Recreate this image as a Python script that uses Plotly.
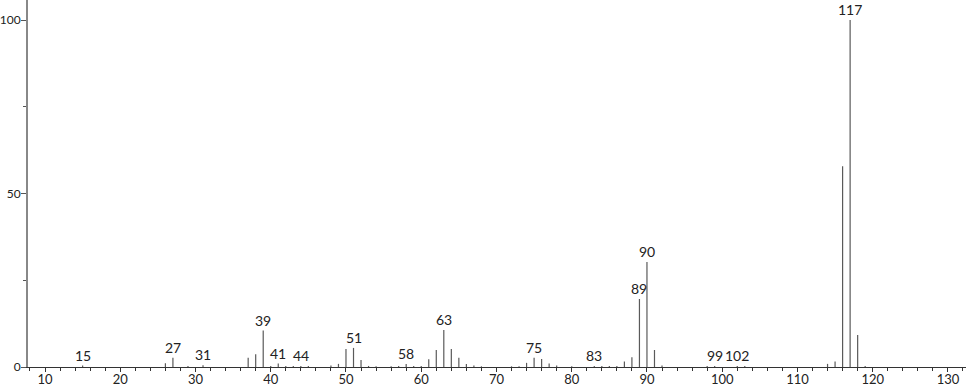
import plotly.graph_objects as go

mz = [15, 26, 27, 29, 31, 37, 38, 39, 40, 41, 42, 43, 44, 45, 48, 49, 50, 51, 52, 53, 54, 56, 57, 58, 59, 60,
      61, 62, 63, 64, 65, 66, 67, 68, 72, 73, 74, 75, 76, 77, 78, 80, 83, 84, 85, 86, 87, 88, 89, 90, 91, 92,
      98, 99, 102, 103, 114, 115, 116, 117, 118, 119]
intensity = [0.4, 1.1, 2.7, 0.3, 0.5, 2.7, 3.7, 10.5, 0.3, 1.0, 0.3, 0.3, 0.3, 0.3, 0.4, 0.9, 5.2, 5.5, 2.0, 0.3, 0.2, 0.2, 0.3, 0.9, 0.3, 0.3,
             2.2, 4.9, 10.7, 5.2, 2.7, 0.9, 0.4, 0.2, 0.2, 0.2, 1.2, 2.7, 2.3, 1.0, 0.4, 0.2, 0.3, 0.3, 0.3, 0.3, 1.6, 2.8, 19.6, 30.3, 4.9, 0.4,
             0.3, 0.3, 0.3, 0.3, 0.9, 1.6, 57.9, 100.0, 9.2, 0.3]
labels = [15, 27, 31, 39, 41, 44, 51, 58, 63, 75, 83, 89, 90, 99, 102, 117]

xs, ys = [], []
for m, v in zip(mz, intensity):
    xs += [m, m, None]
    ys += [0, v, None]

FONT = "Lato, DejaVu Sans, sans-serif"

fig = go.Figure()
fig.add_trace(go.Scatter(x=xs, y=ys, mode="lines", line=dict(color="#5a5a5a", width=1.2),
                         hoverinfo="skip", showlegend=False))

lookup = dict(zip(mz, intensity))
for m in labels:
    fig.add_annotation(x=m, y=lookup.get(m, 0), text=str(m), showarrow=False,
                       yanchor="bottom", xanchor="center", yshift=0,
                       font=dict(family=FONT, size=14, color="#222222"))

fig.update_layout(
    width=966, height=389,
    margin=dict(l=28, r=0, t=0, b=22, autoexpand=False),
    paper_bgcolor="white", plot_bgcolor="white",
    font=dict(family=FONT, size=13, color="#222222"),
    xaxis=dict(range=[7.74, 132.4], showgrid=False, zeroline=False, showline=True, automargin=False,
               linecolor="#333333", linewidth=1, ticks="outside", ticklen=4, tickcolor="#333333",
               tick0=0, dtick=10, ticklabelstandoff=-4, tickfont=dict(family=FONT, size=13),
               minor=dict(dtick=2, tick0=0, ticks="outside", ticklen=3, tickcolor="#333333", showgrid=False)),
    yaxis=dict(range=[0, 105.8], showgrid=False, zeroline=False, showline=True, automargin=False,
               linecolor="#888888", linewidth=2, ticks="outside", ticklen=5, tickcolor="#555555",
               tick0=0, dtick=50, ticklabelstandoff=-2, tickfont=dict(family=FONT, size=12),
               minor=dict(dtick=25, tick0=0, ticks="outside", ticklen=3, tickcolor="#555555", showgrid=False)),
)

fig.write_html("out.html")
